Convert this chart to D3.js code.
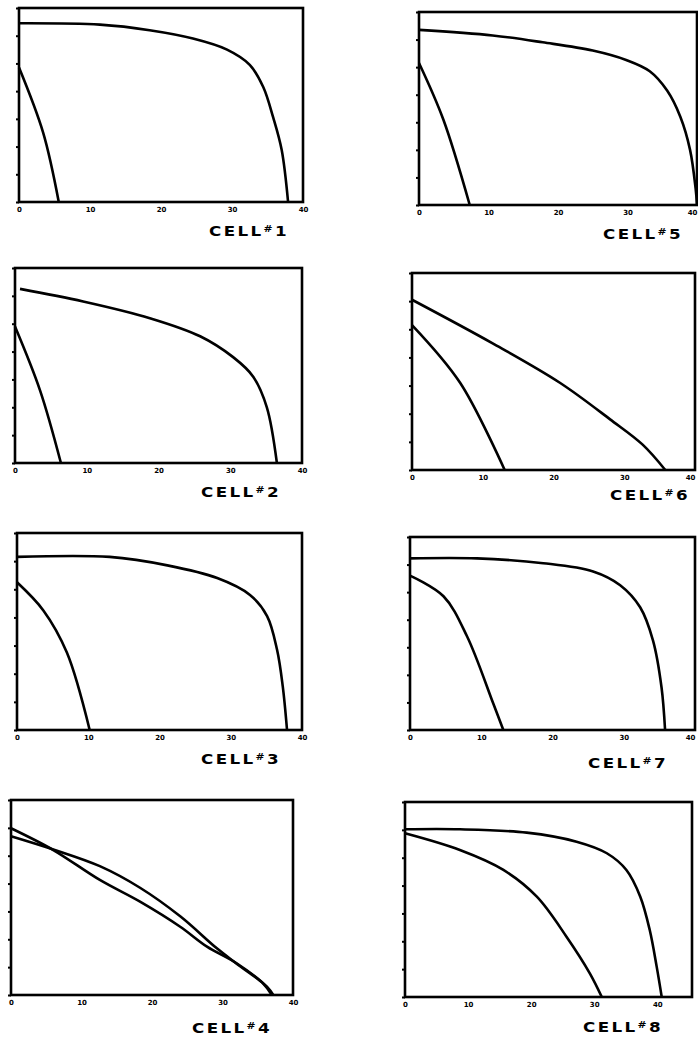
<!DOCTYPE html>
<html>
<head>
<meta charset="utf-8">
<script src="https://cdn.jsdelivr.net/npm/d3@7"></script>
<style>
body { margin: 0; background: #fff; }
</style>
</head>
<body>
<div class="svg"></div>
<script>
// tick labels / values (scan is blurry, these are best guesses)
var xTickValues = [0, 1, 2, 3, 4];
var xTickLabels = ["0", "10", "20", "30", "40"];
var yTickValues = [0, 0.2, 0.4, 0.6, 0.8, 1.0, 1.2, 1.4];
var cellNumbers = ["1", "2", "3", "4", "5", "6", "7", "8"];
var xMaxes = [4, 4, 4, 4, 4, 4, 4, 4.55];

// two curves per cell, [x, y]
var upper1 = [[0,1.29],[1.14,1.28],[1.84,1.24],[2.45,1.18],[2.93,1.10],[3.25,0.99],[3.44,0.83],[3.58,0.61],[3.70,0.375],[3.79,0]];
var lower1 = [[0,0.97],[0.34,0.50],[0.56,0]];
var upper2 = [[0.07,1.25],[0.95,1.16],[1.88,1.04],[2.58,0.91],[3.04,0.76],[3.32,0.62],[3.51,0.40],[3.65,0]];
var lower2 = [[0,0.98],[0.35,0.52],[0.64,0]];
var upper3 = [[0,1.23],[1.30,1.23],[2.11,1.17],[2.81,1.08],[3.27,0.96],[3.51,0.81],[3.65,0.57],[3.73,0.31],[3.79,0]];
var lower3 = [[0,1.05],[0.37,0.85],[0.70,0.55],[1.02,0]];
var upper4 = [[0,1.14],[0.60,1.045],[1.26,0.925],[1.83,0.77],[2.40,0.565],[2.92,0.335],[3.20,0.225],[3.58,0.08],[3.70,0]];
var lower4 = [[0,1.197],[0.60,1.041],[1.26,0.826],[1.83,0.670],[2.40,0.490],[2.78,0.347],[3.20,0.228],[3.63,0.06],[3.72,0]];
var upper5 = [[0,1.27],[1.06,1.23],[1.78,1.18],[2.50,1.12],[2.99,1.05],[3.32,0.97],[3.57,0.83],[3.76,0.64],[3.90,0.40],[3.98,0.12],[4.0,0]];
var lower5 = [[0,1.03],[0.35,0.62],[0.73,0]];
var upper6 = [[0,1.21],[1.14,0.90],[2.09,0.62],[2.80,0.36],[3.26,0.18],[3.58,0]];
var lower6 = [[0,1.03],[0.68,0.62],[1.31,0]];
var upper7 = [[0,1.245],[0.94,1.245],[1.87,1.21],[2.57,1.15],[2.95,1.05],[3.23,0.89],[3.41,0.65],[3.53,0.31],[3.58,0]];
var lower7 = [[0,1.12],[0.47,0.97],[0.80,0.68],[1.17,0.19],[1.31,0]];
var upper8 = [[0,1.204],[0.87,1.204],[1.93,1.18],[2.72,1.115],[3.20,1.032],[3.51,0.912],[3.73,0.72],[3.88,0.481],[3.99,0.218],[4.07,0]];
var lower8 = [[0,1.175],[0.87,1.055],[1.56,0.912],[2.09,0.72],[2.56,0.433],[2.93,0.17],[3.12,0]];

var curves = [
    [upper1, lower1], [upper2, lower2], [upper3, lower3], [upper4, lower4],
    [upper5, lower5], [upper6, lower6], [upper7, lower7], [upper8, lower8]
];

// panel boxes in page pixels: left, top, right, bottom; label x, baseline
var boxes = [
    {l: 19,  t: 8,   r: 303, b: 202, lx: 209, ly: 236},
    {l: 15,  t: 268, r: 302, b: 463, lx: 201, ly: 497},
    {l: 17,  t: 533, r: 302, b: 730, lx: 201, ly: 764},
    {l: 11,  t: 800, r: 293, b: 995, lx: 192, ly: 1033},
    {l: 419, t: 12,  r: 697, b: 205, lx: 603, ly: 239},
    {l: 412, t: 273, r: 695, b: 470, lx: 610, ly: 500},
    {l: 410, t: 537, r: 695, b: 730, lx: 588, ly: 768},
    {l: 405, t: 802, r: 692, b: 997, lx: 583, ly: 1032}
];

var width = 698, height = 1038;
var svg = d3.select(".svg").append("svg")
    .attr("width", width)
    .attr("height", height);

boxes.forEach(function (bx, i) {
    var x = d3.scaleLinear().domain([0, xMaxes[i]]).range([bx.l, bx.r]);
    var y = d3.scaleLinear().domain([0, 1.4]).range([bx.b, bx.t]);
    var g = svg.append("g");

    // y ticks, just little marks
    var ya = g.append("g")
        .attr("transform", "translate(" + bx.l + ",0)")
        .call(d3.axisLeft(y).tickValues(yTickValues).tickSize(3).tickFormat(""));
    ya.select(".domain").remove();
    ya.selectAll("line").attr("stroke-width", 2);

    // x tick labels
    var xa = g.append("g")
        .attr("transform", "translate(0," + bx.b + ")")
        .call(d3.axisBottom(x).tickValues(xTickValues).tickSize(0).tickPadding(5)
            .tickFormat(function (d, k) { return xTickLabels[k]; }));
    xa.select(".domain").remove();
    xa.selectAll("text")
        .attr("font-family", "DejaVu Sans")
        .attr("font-weight", "bold")
        .attr("font-size", 7)
        .attr("fill", "#000")
        .attr("text-anchor", function (d) { return x(d) > width - 8 ? "end" : "middle"; });

    // frame
    g.append("rect")
        .attr("x", bx.l).attr("y", bx.t)
        .attr("width", bx.r - bx.l).attr("height", bx.b - bx.t)
        .attr("fill", "none")
        .attr("stroke", "#000")
        .attr("stroke-width", 2.6);

    var line = d3.line()
        .x(function (d) { return x(d[0]); })
        .y(function (d) { return y(d[1]); })
        .curve(d3.curveCatmullRom.alpha(0.5));

    g.selectAll("path.curve")
        .data(curves[i])
        .enter().append("path")
        .attr("class", "curve")
        .attr("d", line)
        .attr("fill", "none")
        .attr("stroke", "#000")
        .attr("stroke-width", 2.6)
        .attr("stroke-linejoin", "round");

    // CELL #n label
    var t = g.append("text")
        .attr("x", bx.lx)
        .attr("y", bx.ly)
        .attr("font-family", "DejaVu Sans")
        .attr("font-weight", "bold")
        .attr("font-size", 14)
        .attr("letter-spacing", 2)
        .attr("fill", "#000")
        .attr("textLength", 80)
        .attr("lengthAdjust", "spacingAndGlyphs");
    t.append("tspan").text("CELL");
    t.append("tspan").attr("dy", -4).attr("font-size", 9).text("#");
    t.append("tspan").attr("dy", 4).text(cellNumbers[i]);
});
</script>
</body>
</html>
